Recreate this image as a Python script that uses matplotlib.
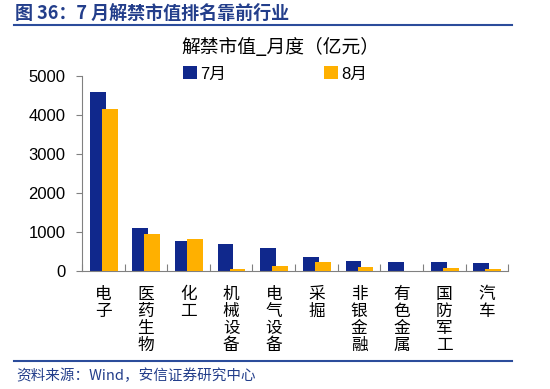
import matplotlib
matplotlib.use("Agg")
import matplotlib.pyplot as plt
import numpy as np
from matplotlib.lines import Line2D

plt.rcParams['font.family'] = ['Liberation Sans', 'Noto Sans CJK SC', 'DejaVu Sans']

industries = ['电子', '医药生物', '化工', '机械设备', '电气设备', '采掘',
              '非银金融', '有色金属', '国防军工', '汽车']
jul = [4580, 1100, 770, 680, 575, 360, 240, 225, 215, 200]
aug = [4145, 950, 805, 50, 120, 215, 105, 0, 75, 50]
series_names = ['7月', '8月']

navy = '#10288C'
orange = '#FFB000'
blue_text = '#233E8B'

fig = plt.figure(figsize=(5.5, 3.89), dpi=100)
ax = fig.add_axes([0.149, 0.304, 0.775, 0.501])

x = np.arange(len(industries))
w = 0.37
ax.bar(x - 0.13, jul, w, color=navy, label=series_names[0], zorder=2)
ax.bar(x + 0.15, aug, w, color=orange, label=series_names[1], zorder=3)

ax.set_xlim(-0.5, len(industries) - 0.5)
ax.set_ylim(0, 5000)
ax.set_yticks([0, 1000, 2000, 3000, 4000, 5000])

for s in ['top', 'right']:
    ax.spines[s].set_visible(False)
for s in ['left', 'bottom']:
    ax.spines[s].set_color('#808080')

ax.tick_params(axis='y', direction='out', length=4, color='#808080',
               labelsize=12, pad=8)
ax.set_xticks(np.arange(-0.5, len(industries), 1.0))
ax.set_xticklabels([])
ax.tick_params(axis='x', direction='in', length=5, color='#808080')

# vertical category labels, one character per line
for i, name in enumerate(industries):
    ax.text(i, -380, '\n'.join(name), ha='center', va='top', fontsize=12,
            family=['Noto Sans CJK SC'], linespacing=1.02)

ax.legend(loc='center', bbox_to_anchor=(0.453, 1.01), ncol=2, frameon=False,
          handlelength=0.8, handleheight=0.8, handletextpad=0.2,
          columnspacing=5.9, prop={'family': ['Liberation Sans', 'Noto Sans CJK SC'], 'size': 12})

fig.text(0.027, 1 - 13 / 389, '图 36：7 月解禁市值排名靠前行业', fontsize=13,
         fontweight='bold', color=blue_text, va='center', ha='left',
         family=['Noto Sans CJK SC'])
fig.add_artist(Line2D([14 / 550, 512 / 550], [1 - 25 / 389, 1 - 25 / 389],
                      color='#2B4C9B', lw=1.5))
fig.text(280 / 550, 1 - 48 / 389, '解禁市值_月度（亿元）', fontsize=13.5,
         ha='center', va='center', family=['Noto Sans CJK SC'])
fig.add_artist(Line2D([14 / 550, 512 / 550], [1 - 361 / 389, 1 - 361 / 389],
                      color='#2B4C9B', lw=1.5))
fig.text(16 / 550, 1 - 376 / 389, '资料来源：Wind，安信证券研究中心', fontsize=10.5,
         color=blue_text, va='center', ha='left', style='italic',
         family=['Noto Sans CJK SC'])

fig.savefig('out.png', dpi=100)
